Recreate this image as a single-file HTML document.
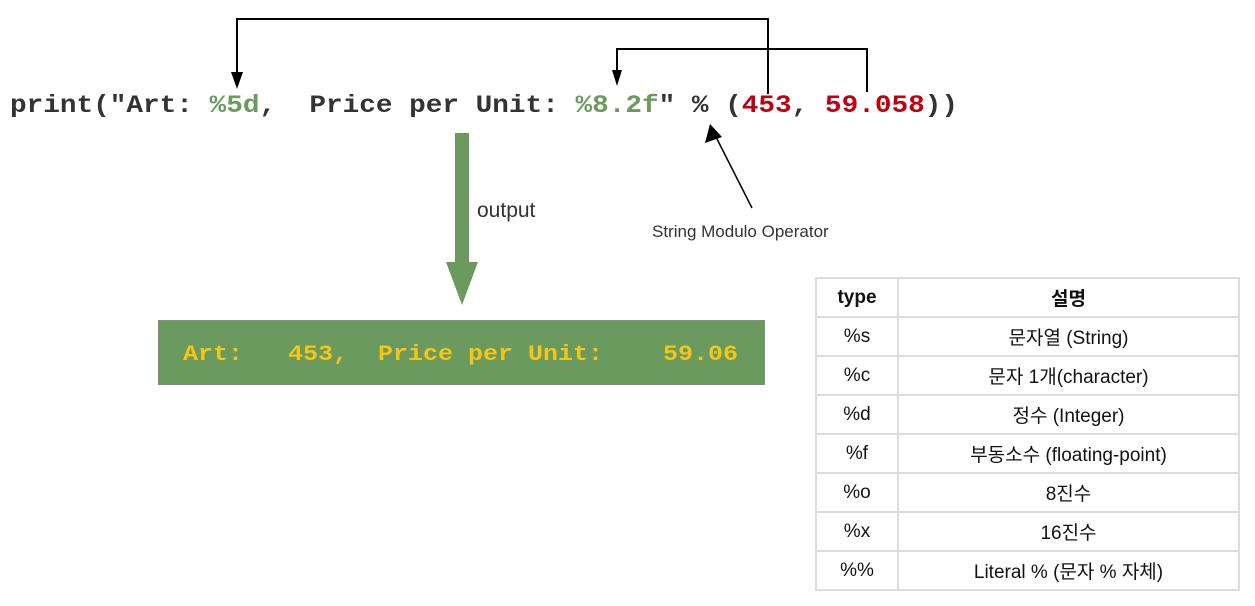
<!DOCTYPE html>
<html><head><meta charset="utf-8"><style>
body{margin:0;background:#fff;width:1255px;height:606px;overflow:hidden;position:relative}
table{position:absolute;left:815px;top:277px;border-collapse:collapse;font-family:"Liberation Sans","Noto Sans CJK KR",sans-serif;font-size:19px;color:#111}
td{border:2px solid #ddd;height:37px;text-align:center;padding:0}
</style></head><body>
<svg width="1255" height="606" style="position:absolute;left:0;top:0">
<g fill="none" stroke="#000" stroke-width="2">
<path d="M768,94 V19 H237 V74"/>
<path d="M867,92 V49 H617 V72"/>
<line x1="752" y1="208" x2="716" y2="137" stroke-width="1.5"/>
</g>
<polygon points="231,72 243,72 237,89" fill="#000"/>
<polygon points="612,70 622,70 617,86" fill="#000"/>
<polygon points="710,124 705,143 722,137" fill="#000"/>
<text x="10" y="112" font-family="Liberation Mono,monospace" font-weight="bold" font-size="25" fill="#333" textLength="948" lengthAdjust="spacingAndGlyphs" xml:space="preserve">print("Art: <tspan fill="#6a9a5e">%5d</tspan>,  Price per Unit: <tspan fill="#6a9a5e">%8.2f</tspan>" % (<tspan fill="#c00010">453</tspan>, <tspan fill="#c00010">59.058</tspan>))</text>
<rect x="455" y="133" width="14" height="130" fill="#6a9a5e"/>
<polygon points="446,262 478,262 462,305" fill="#6a9a5e"/>
<text x="477" y="217" font-family="Liberation Sans,sans-serif" font-size="21" fill="#333">output</text>
<text x="652" y="237" font-family="Liberation Sans,sans-serif" font-size="17" fill="#333">String Modulo Operator</text>
<rect x="158.5" y="320.5" width="606" height="64" fill="#6a9a5e" stroke="#888"/>
<text x="183" y="360" font-family="Liberation Mono,monospace" font-weight="bold" font-size="22" fill="#f5c518" textLength="555" lengthAdjust="spacingAndGlyphs" xml:space="preserve">Art:   453,  Price per Unit:    59.06</text>
</svg>
<table>
<tr><td style="width:80px;font-weight:bold">type</td><td style="width:339px;font-weight:bold">설명</td></tr>
<tr><td>%s</td><td>문자열 (String)</td></tr>
<tr><td>%c</td><td>문자 1개(character)</td></tr>
<tr><td>%d</td><td>정수 (Integer)</td></tr>
<tr><td>%f</td><td>부동소수 (floating-point)</td></tr>
<tr><td>%o</td><td>8진수</td></tr>
<tr><td>%x</td><td>16진수</td></tr>
<tr><td>%%</td><td>Literal % (문자 % 자체)</td></tr>
</table>
</body></html>
